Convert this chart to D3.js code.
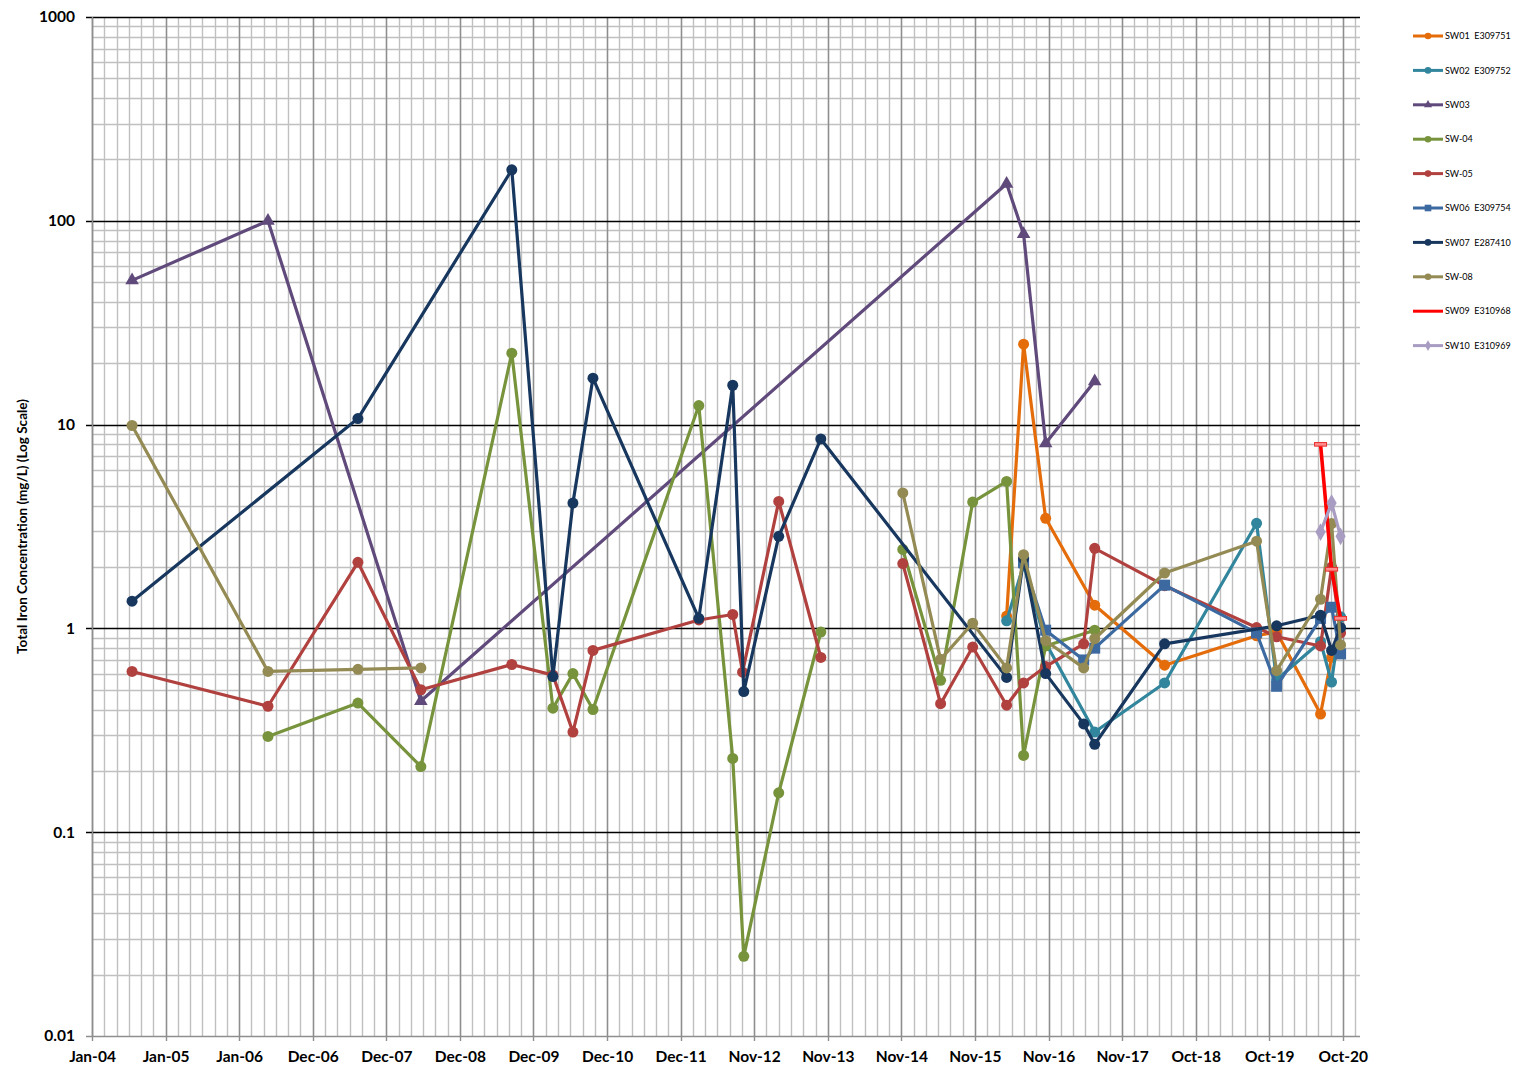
<!DOCTYPE html>
<html>
<head>
<meta charset="utf-8">
<script src="https://cdn.jsdelivr.net/npm/d3@7"></script>
<style>
  html, body { margin: 0; padding: 0; background: #fff; }
  svg { display: block; }
  text { font-family: Lato, "Open Sans", "Liberation Sans", sans-serif; }
</style>
</head>
<body>
<svg id="chart" width="1516" height="1070"></svg>
<script>
// ---- Sampling data: total iron (mg/L) per monitoring point ----
// A null value marks a break in the plotted line.
const sw01Dates = ["2016-04-15","2016-07-07","2016-10-23","2017-06-20","2018-05-28","2019-08-21","2019-11-27","2020-06-29","2020-08-22"];
const sw01Iron  = [1.15, 24.8, 3.47, 1.3, 0.66, 0.92, 0.96, 0.38, 0.72];

const sw02Dates = ["2016-04-15","2016-07-07","2016-10-23","2017-06-20","2018-05-28","2019-08-21","2019-11-27","2020-06-29","2020-08-22","2020-10-05"];
const sw02Iron  = [1.09, 2.05, 0.85, 0.31, 0.54, 3.28, 0.56, 0.86, 0.545, 1.14];

const sw03Dates = ["2004-07-28","2006-05-24","2008-06-10","2016-04-15","2016-07-07","2016-10-23","2017-06-20"];
const sw03Iron  = [51, 100, 0.44, 152, 86, 8.1, 16.3];

const sw04Dates = ["2006-05-24","2007-08-07","2008-06-10","2009-08-29","2010-03-18","2010-06-24","2010-09-30","2012-03-01","2012-08-14","2012-10-07","2013-03-27","2013-10-19","2014-05-01","2014-11-24","2015-05-28","2015-11-01","2016-04-15","2016-07-07","2016-10-23","2017-06-20"];
const sw04Iron  = [0.295, 0.43, 0.21, 22.4, 0.406, 0.60, 0.40, 12.4, 0.23, 0.0246, 0.156, 0.96, null, 2.44, 0.556, 4.17, 5.26, 0.238, 0.82, 0.98];

const sw05Dates = ["2004-07-28","2006-05-24","2007-08-07","2008-06-10","2009-08-29","2010-03-18","2010-06-24","2010-09-30","2012-03-01","2012-08-14","2012-10-01","2013-03-27","2013-10-19","2014-05-01","2014-11-24","2015-05-28","2015-11-01","2016-04-15","2016-07-07","2016-10-23","2017-04-27","2017-06-20","2018-05-28","2019-08-21","2019-11-27","2020-06-29","2020-08-22","2020-10-05"];
const sw05Iron  = [0.615, 0.415, 2.11, 0.50, 0.665, 0.59, 0.31, 0.78, 1.1, 1.17, 0.61, 4.2, 0.72, null, 2.08, 0.427, 0.81, 0.42, 0.54, 0.65, 0.84, 2.47, 1.62, 1.01, 0.91, 0.82, 2.0, 0.95];

const sw06Dates = ["2016-07-07","2016-10-23","2017-04-27","2017-06-20","2018-05-28","2019-08-21","2019-11-27","2020-06-29","2020-08-22","2020-10-05"];
const sw06Iron  = [2.1, 0.98, 0.70, 0.80, 1.63, 0.95, 0.52, 1.12, 1.27, 0.75];

const sw07Dates = ["2004-07-28","2007-08-07","2009-08-29","2010-03-18","2010-06-24","2010-09-30","2012-03-01","2012-08-14","2012-10-07","2013-03-27","2013-10-19","2016-04-15","2016-07-07","2016-10-23","2017-04-27","2017-06-20","2018-05-28","2019-11-27","2020-06-29","2020-08-22","2020-10-05"];
const sw07Iron  = [1.36, 10.7, 178, 0.58, 4.12, 16.9, 1.12, 15.6, 0.49, 2.83, 8.5, 0.575, 2.2, 0.6, 0.34, 0.27, 0.84, 1.03, 1.16, 0.78, 1.01];

const sw08Dates = ["2004-07-28","2006-05-24","2007-08-07","2008-06-10","2011-06-01","2014-11-24","2015-05-28","2015-11-01","2016-04-15","2016-07-07","2016-10-23","2017-04-27","2017-06-20","2018-05-28","2019-08-21","2019-11-27","2020-06-29","2020-08-22","2020-10-05"];
const sw08Iron  = [9.9, 0.615, 0.63, 0.64, null, 4.62, 0.705, 1.06, 0.64, 2.3, 0.87, 0.64, 0.89, 1.87, 2.68, 0.62, 1.39, 3.27, 0.83];

const sw09Dates = ["2020-06-29","2020-08-22","2020-10-05"];
const sw09Iron  = [8.0, 1.95, 1.12];

const sw10Dates = ["2020-06-29","2020-08-22","2020-10-05"];
const sw10Iron  = [2.97, 4.12, 2.83];

const seriesNames  = ["SW01  E309751","SW02  E309752","SW03","SW-04","SW-05","SW06  E309754","SW07  E287410","SW-08","SW09  E310968","SW10  E310969"];
const seriesColors = ["#E46C0A","#31859C","#604A7B","#77933C","#B0413E","#3C69A0","#17375E","#948A54","#FF0000","#A99CC2"];
const seriesMarkers = ["circle","circle","triangle","circle","circle","square","circle","circle","dash","diamond"];
const seriesDates  = [sw01Dates, sw02Dates, sw03Dates, sw04Dates, sw05Dates, sw06Dates, sw07Dates, sw08Dates, sw09Dates, sw10Dates];
const seriesIron   = [sw01Iron, sw02Iron, sw03Iron, sw04Iron, sw05Iron, sw06Iron, sw07Iron, sw08Iron, sw09Iron, sw10Iron];

// Axis settings: date axis stepping 360 days (minor 60), log value axis
const axisStart = "2004-01-14";
const majorStepDays = 360;
const minorStepDays = 60;
const axisSpanDays = 6204;
const yTickValues = [0.01, 0.1, 1, 10, 100, 1000];
const yTickLabels = ["0.01", "0.1", "1", "10", "100", "1000"];
const yTitle = "Total Iron Concentration (mg/L) (Log Scale)";

// ---- Drawing ----
const parse = d3.utcParse("%Y-%m-%d");
const fmt = d3.utcFormat("%b-%y");
const svg = d3.select("#chart");
const plot = { left: 92, right: 1360, top: 17, bottom: 1036 };

const t0 = parse(axisStart);
const t1 = d3.utcDay.offset(t0, axisSpanDays);
const x = d3.scaleUtc().domain([t0, t1]).range([plot.left, plot.right]);
const y = d3.scaleLog().domain([0.01, 1000]).range([plot.bottom, plot.top]);

const majorDates = d3.range(0, axisSpanDays + 1, majorStepDays).map(d => d3.utcDay.offset(t0, d));
const minorDates = d3.range(0, axisSpanDays + 1, minorStepDays).map(d => d3.utcDay.offset(t0, d));

// minor horizontal gridlines (2..9 within each decade)
const minorY = [];
for (let e = -2; e < 3; e++) for (let m = 2; m <= 9; m++) minorY.push(m * Math.pow(10, e));

const grid = svg.append("g");
grid.selectAll("line.hmin").data(minorY).join("line")
  .attr("x1", plot.left).attr("x2", plot.right)
  .attr("y1", d => Math.round(y(d)) + 0.5).attr("y2", d => Math.round(y(d)) + 0.5)
  .attr("stroke", "#C0C0C0").attr("stroke-width", 1.4);
grid.selectAll("line.vmin").data(minorDates).join("line")
  .attr("x1", d => Math.round(x(d)) + 0.5).attr("x2", d => Math.round(x(d)) + 0.5)
  .attr("y1", plot.top).attr("y2", plot.bottom)
  .attr("stroke", "#C0C0C0").attr("stroke-width", 1.4);
grid.selectAll("line.vmaj").data(majorDates).join("line")
  .attr("x1", d => Math.round(x(d)) + 0.5).attr("x2", d => Math.round(x(d)) + 0.5)
  .attr("y1", plot.top).attr("y2", plot.bottom + 5)
  .attr("stroke", "#8E8E8E").attr("stroke-width", 1.4);
grid.selectAll("line.hmaj").data(yTickValues.slice(1)).join("line")
  .attr("x1", plot.left - 6).attr("x2", plot.right)
  .attr("y1", d => Math.round(y(d)) + 0.5).attr("y2", d => Math.round(y(d)) + 0.5)
  .attr("stroke", "#000").attr("stroke-width", 1.6);
// value axis line and category axis line
grid.append("line").attr("x1", plot.left + 0.5).attr("x2", plot.left + 0.5)
  .attr("y1", plot.top).attr("y2", plot.bottom).attr("stroke", "#8E8E8E").attr("stroke-width", 1.4);
grid.append("line").attr("x1", plot.left - 6).attr("x2", plot.right)
  .attr("y1", plot.bottom + 0.5).attr("y2", plot.bottom + 0.5).attr("stroke", "#8E8E8E").attr("stroke-width", 1.4);

// tick labels
const yAxis = d3.axisLeft(y).tickValues(yTickValues).tickFormat((d, i) => yTickLabels[i]).tickSize(0).tickPadding(17);
const yg = svg.append("g").attr("transform", `translate(${plot.left},0)`).call(yAxis);
yg.select(".domain").remove();
yg.selectAll("text").attr("font-size", 15.5).attr("font-weight", "bold").attr("fill", "#000")
  .attr("font-family", "Lato, 'Open Sans', sans-serif");

const xAxis = d3.axisBottom(x).tickValues(majorDates.slice(0, 18)).tickFormat(fmt).tickSize(0).tickPadding(15);
const xg = svg.append("g").attr("transform", `translate(0,${plot.bottom})`).call(xAxis);
xg.select(".domain").remove();
xg.selectAll("text").attr("font-size", 15.5).attr("font-weight", "bold").attr("fill", "#000")
  .attr("font-family", "Lato, 'Open Sans', sans-serif");

svg.append("text")
  .attr("transform", `translate(27,${(plot.top + plot.bottom) / 2}) rotate(-90)`)
  .attr("text-anchor", "middle")
  .attr("font-size", 13.5).attr("font-weight", "bold")
  .text(yTitle);

// marker drawing
function drawMarker(sel, kind, color, scale) {
  const s = scale || 1;
  if (kind === "circle") {
    sel.append("circle").attr("r", 5.5 * s).attr("fill", color);
  } else if (kind === "square") {
    sel.append("rect").attr("x", -5.5 * s).attr("y", -5.5 * s).attr("width", 11 * s).attr("height", 11 * s).attr("fill", color);
  } else if (kind === "triangle") {
    sel.append("path").attr("d", d3.symbol(d3.symbolTriangle, 80 * s * s)()).attr("fill", color);
  } else if (kind === "diamond") {
    sel.append("path").attr("d", d3.symbol(d3.symbolDiamond, 90 * s * s)()).attr("fill", color);
  } else if (kind === "dash") {
    sel.append("rect").attr("x", -6 * s).attr("y", -1.8 * s).attr("width", 12 * s).attr("height", 3.6 * s)
      .attr("fill", "#FF8C8C").attr("stroke", "#E8302E").attr("stroke-width", 1);
  }
}

svg.append("defs").append("clipPath").attr("id", "plotClip")
  .append("rect").attr("x", plot.left).attr("y", plot.top - 8)
  .attr("width", plot.right - plot.left + 8).attr("height", plot.bottom - plot.top + 16);

const series = seriesNames.map((name, i) => ({
  name, color: seriesColors[i], marker: seriesMarkers[i],
  points: seriesDates[i].map((d, j) => ({ date: parse(d), v: seriesIron[i][j] }))
}));

const line = d3.line().defined(d => d.v != null).x(d => x(d.date)).y(d => y(d.v));
const layer = svg.append("g").attr("clip-path", "url(#plotClip)");
series.forEach(s => {
  const g = layer.append("g");
  g.append("path").datum(s.points).attr("d", line)
    .attr("fill", "none").attr("stroke", s.color)
    .attr("stroke-width", s.marker === "dash" ? 3.6 : 3.2)
    .attr("stroke-linejoin", "round").attr("stroke-linecap", "round");
  s.points.filter(p => p.v != null).forEach(p => {
    const m = g.append("g").attr("transform", `translate(${x(p.date)},${y(p.v)})`);
    drawMarker(m, s.marker, s.color, 1);
  });
});

// legend
const legend = svg.append("g");
series.forEach((s, i) => {
  const ly = 36 + i * 34.4;
  const row = legend.append("g").attr("transform", `translate(0,${ly})`);
  row.append("line").attr("x1", 1413).attr("x2", 1443).attr("y1", 0).attr("y2", 0)
    .attr("stroke", s.color).attr("stroke-width", 3);
  if (s.marker !== "dash") {
    const m = row.append("g").attr("transform", "translate(1428,0)");
    drawMarker(m, s.marker, s.color, 0.6);
  }
  row.append("text").attr("x", 1445).attr("y", 0).attr("dy", "0.35em")
    .attr("font-size", 9).attr("font-family", "'Open Sans', 'Liberation Sans', sans-serif")
    .attr("xml:space", "preserve").style("white-space", "pre")
    .text(s.name);
});
</script>
</body>
</html>
